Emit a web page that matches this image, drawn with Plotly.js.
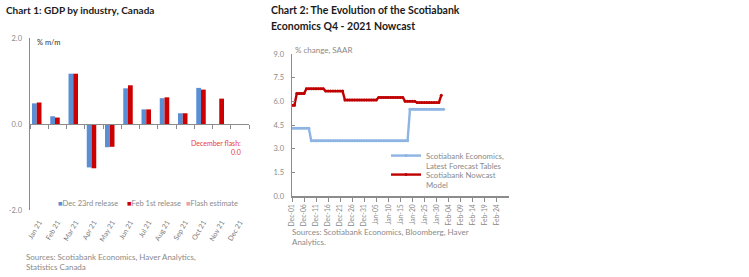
<!DOCTYPE html>
<html><head><meta charset="utf-8">
<script src="https://cdn.plot.ly/plotly-3.0.1.min.js"></script>
<style>html,body{margin:0;padding:0;background:#fff;}#chart{width:749px;height:277px;}</style>
</head><body><div id="chart"></div>
<script>
// ---------- Chart 1 data ----------
const months = ['Jan 21','Feb 21','Mar 21','Apr 21','May 21','Jun 21','Jul 21','Aug 21','Sep 21','Oct 21','Nov 21','Dec 21'];
const dec23Release = [0.48, 0.18, 1.17, -1.01, -0.54, 0.83, 0.34, 0.60, 0.25, 0.84, null, null];
const feb1Release  = [0.50, 0.15, 1.17, -1.03, -0.53, 0.90, 0.34, 0.62, 0.25, 0.80, 0.59, null];
const flashEstimate = [null, null, null, null, null, null, null, null, null, null, null, 0.0];
const yTicks1 = [-2, 0, 2];
const yTickText1 = ['-2.0', '0.0', '2.0'];

// ---------- Chart 2 data ----------
const nowcastDates = [
 '2021-12-01','2021-12-02','2021-12-03','2021-12-04','2021-12-05','2021-12-06','2021-12-07','2021-12-08','2021-12-09','2021-12-10',
 '2021-12-11','2021-12-12','2021-12-13','2021-12-14','2021-12-15','2021-12-16','2021-12-17','2021-12-18','2021-12-19','2021-12-20',
 '2021-12-21','2021-12-22','2021-12-23','2021-12-24','2021-12-25','2021-12-26','2021-12-27','2021-12-28','2021-12-29','2021-12-30',
 '2021-12-31','2022-01-01','2022-01-02','2022-01-03','2022-01-04','2022-01-05','2022-01-06','2022-01-07','2022-01-08','2022-01-09',
 '2022-01-10','2022-01-11','2022-01-12','2022-01-13','2022-01-14','2022-01-15','2022-01-16','2022-01-17','2022-01-18','2022-01-19',
 '2022-01-20','2022-01-21','2022-01-22','2022-01-23','2022-01-24','2022-01-25','2022-01-26','2022-01-27','2022-01-28','2022-01-29',
 '2022-01-30','2022-01-31','2022-02-01','2022-02-02'];
const forecastTables = [
 4.3,4.3,4.3,4.3,4.3,4.3,4.3,4.3,3.5,3.5,
 3.5,3.5,3.5,3.5,3.5,3.5,3.5,3.5,3.5,3.5,
 3.5,3.5,3.5,3.5,3.5,3.5,3.5,3.5,3.5,3.5,
 3.5,3.5,3.5,3.5,3.5,3.5,3.5,3.5,3.5,3.5,
 3.5,3.5,3.5,3.5,3.5,3.5,3.5,3.5,3.5,5.5,
 5.5,5.5,5.5,5.5,5.5,5.5,5.5,5.5,5.5,5.5,
 5.5,5.5,5.5,5.5];
const nowcastModel = [
 5.75,5.75,6.5,6.5,6.5,6.5,6.8,6.8,6.8,6.8,
 6.8,6.8,6.8,6.8,6.65,6.65,6.65,6.65,6.65,6.65,
 6.65,6.65,6.08,6.08,6.08,6.08,6.08,6.08,6.08,6.08,
 6.08,6.08,6.08,6.08,6.08,6.08,6.25,6.25,6.25,6.25,
 6.25,6.25,6.25,6.25,6.25,6.25,6.25,6.0,6.0,6.0,
 6.0,6.0,5.92,5.92,5.92,5.92,5.92,5.92,5.92,5.92,
 5.92,5.92,6.38,null];

// ---------- styling ----------
const W = 749, H = 277;
const px = x => x / W;
const py = y => 1 - y / H;
const FONT = 'Lato, "Open Sans", sans-serif';
const GRAY = '#8a8a8a';
const AXIS = '#8c8c8c';
const BLUE = '#5a8fd6', RED = '#cc0000', PINK = '#e8a3ad';
const LBLUE = '#8db4e2', DRED = '#c00000';

const y1dom = [py(210), py(38)];
const y2dom = [py(196), py(54)];

const traces = [
  {type:'bar', x: months, y: dec23Release, name:'Dec 23rd release', marker:{color:BLUE}, xaxis:'x', yaxis:'y', showlegend:false},
  {type:'bar', x: months, y: feb1Release, name:'Feb 1st release', marker:{color:RED}, xaxis:'x', yaxis:'y', showlegend:false},
  {type:'bar', x: months, y: flashEstimate, name:'Flash estimate', marker:{color:PINK}, xaxis:'x', yaxis:'y', showlegend:false},
  {type:'scatter', mode:'none', x: months, y: months.map(() => null), xaxis:'x3', yaxis:'y', showlegend:false, hoverinfo:'skip'},
  {type:'scatter', mode:'lines+markers', x: nowcastDates, y: forecastTables, name:'Scotiabank Economics,<br>Latest Forecast Tables',
   line:{color:LBLUE, width:2.4}, marker:{color:LBLUE, size:3}, xaxis:'x2', yaxis:'y2', legend:'legend'},
  {type:'scatter', mode:'lines+markers', x: nowcastDates, y: nowcastModel, name:'Scotiabank Nowcast<br>Model',
   line:{color:DRED, width:2.4}, marker:{color:DRED, size:3}, xaxis:'x2', yaxis:'y2', legend:'legend2'}
];

const ann = (x, y, text, opts) => Object.assign({xref:'paper', yref:'paper', x: px(x), y: py(y), text: text,
  showarrow:false, xanchor:'left', yanchor:'middle', font:{family:FONT, size:8, color:GRAY}}, opts || {});

const legendStyle = (top) => ({x: px(386), y: py(top), xanchor:'left', yanchor:'top', bgcolor:'rgba(0,0,0,0)',
    font:{family:FONT, size:7.8, color:GRAY}, tracegroupgap:0, valign:'top', itemwidth:30});

const layout = {
  width: W, height: H,
  margin:{l:0, r:0, t:0, b:0, pad:0},
  paper_bgcolor:'#fff', plot_bgcolor:'rgba(0,0,0,0)',
  font:{family:FONT, color:GRAY},
  barmode:'group', bargap:0.22, bargroupgap:0,
  xaxis:{domain:[px(30), px(249)], anchor:'y', type:'category', categoryarray: months, range:[-0.5, 11.5],
    showline:false, ticks:'', showgrid:false, zeroline:false, tickangle:-60,
    tickfont:{family:FONT, size:7, color:'#7a7a7a'}, ticklabelstandoff:6},
  xaxis3:{overlaying:'x', anchor:'free', position:(y1dom[0] + y1dom[1]) / 2, type:'category', categoryarray: months,
    range:[-0.5, 11.5], showline:true, linecolor:AXIS, linewidth:1, ticks:'outside', tickson:'boundaries',
    ticklen:4, tickcolor:AXIS, showticklabels:false, showgrid:false, zeroline:false},
  yaxis:{domain:y1dom, anchor:'x', range:[-2, 2], tickvals: yTicks1, ticktext: yTickText1,
    showline:true, linecolor:AXIS, linewidth:1.5, ticks:'inside', ticklen:3, tickcolor:AXIS,
    showgrid:false, zeroline:false, tickfont:{family:FONT, size:7.5, color:GRAY}, ticklabelstandoff:5},
  xaxis2:{domain:[px(292), px(508.5)], anchor:'y2', type:'date', range:['2021-12-01', '2022-02-28 22:00'],
    tick0:'2021-12-01', dtick: 5 * 86400000, tickformat:'%b-%d', tickangle:-90,
    showline:true, linecolor:AXIS, linewidth:1.5, ticks:'outside', ticklen:4, tickcolor:AXIS,
    showgrid:false, zeroline:false, tickfont:{family:FONT, size:6.8, color:GRAY}},
  yaxis2:{domain:y2dom, anchor:'x2', range:[0, 9], dtick:1.5, tick0:0, tickformat:'.1f',
    showline:true, linecolor:AXIS, linewidth:1.5, ticks:'inside', ticklen:3, tickcolor:AXIS,
    showgrid:false, zeroline:false, tickfont:{family:FONT, size:7.5, color:GRAY}, ticklabelstandoff:5},
  showlegend:true,
  legend: legendStyle(144),
  legend2: legendStyle(163),
  annotations:[
    ann(4, 10, '<b>Chart 1: GDP by industry, Canada</b>', {font:{family:FONT, size:10, color:'#1a1a1a'}}),
    ann(35, 43, '% m/m', {font:{family:FONT, size:7.5, color:'#333'}}),
    ann(56, 203, '<span style="color:' + BLUE + '">■</span>Dec 23rd release', {font:{family:FONT, size:7.5, color:GRAY}}),
    ann(125, 203, '<span style="color:' + RED + '">■</span>Feb 1st release', {font:{family:FONT, size:7.5, color:GRAY}}),
    ann(184, 203, '<span style="color:' + PINK + '">■</span>Flash estimate', {font:{family:FONT, size:7.5, color:GRAY}}),
    ann(243, 147.5, 'December flash:<br>0.0', {xanchor:'right', align:'right', font:{family:FONT, size:7, color:'#e8383d'}}),
    ann(24, 256.5, 'Sources: Scotiabank Economics, Haver Analytics,'),
    ann(24, 267, 'Statistics Canada'),
    ann(269, 10, '<b>Chart 2: The Evolution of the Scotiabank</b>', {font:{family:FONT, size:10.5, color:'#1a1a1a'}}),
    ann(269, 26, '<b>Economics Q4 - 2021 Nowcast</b>', {font:{family:FONT, size:10.5, color:'#1a1a1a'}}),
    ann(293, 50, '% change, SAAR', {font:{family:FONT, size:8, color:GRAY}}),
    ann(290, 231.5, 'Sources: Scotiabank Economics, Bloomberg, Haver'),
    ann(290, 242, 'Analytics.')
  ]
};

Plotly.newPlot('chart', traces, layout, {staticPlot:true, displayModeBar:false});
</script>
</body></html>
